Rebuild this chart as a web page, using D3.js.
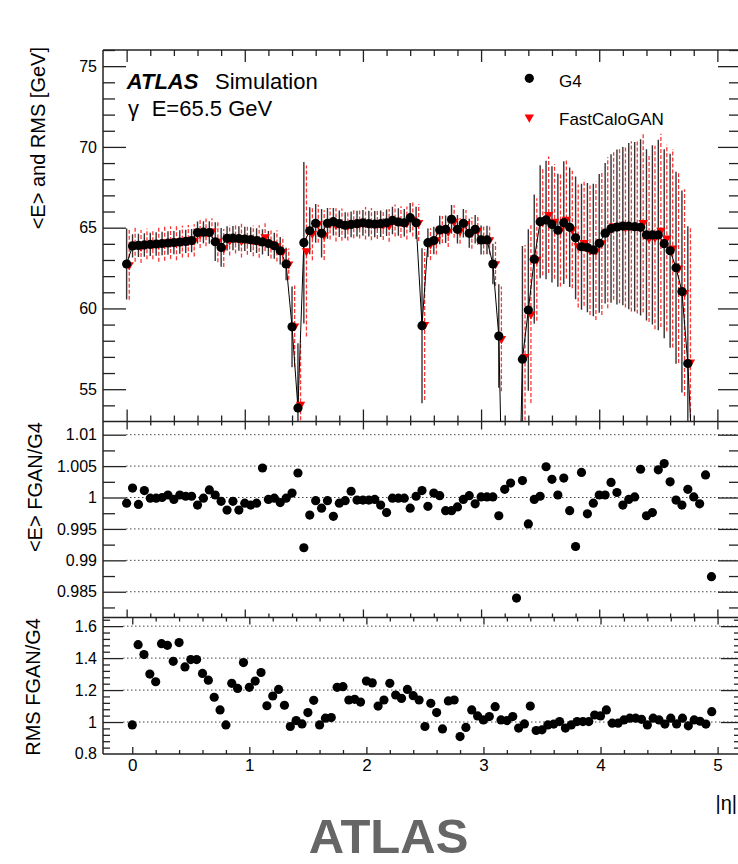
<!DOCTYPE html>
<meta charset="utf-8">
<style>
body { margin: 0; background: #fff; }
.chart text { font-family: "Liberation Sans", Arial, sans-serif; fill: #000; }
.grid line { stroke: #444; stroke-width: 1; stroke-dasharray: 1.5,2.5; }
.ax path { display: none; }
.ax line { stroke: #222; stroke-width: 1.3; }
</style>
<svg class="chart" width="738" height="864"></svg>
<script src="https://cdn.jsdelivr.net/npm/d3@7"></script>
<script>

// |eta| bin centres
var eta = [0, 0.05, 0.1, 0.15, 0.2, 0.25, 0.3, 0.35, 0.4, 0.45,
  0.5, 0.55, 0.6, 0.65, 0.7, 0.75, 0.8, 0.85, 0.9, 0.95,
  1, 1.05, 1.1, 1.15, 1.2, 1.25, 1.3, 1.35, 1.4, 1.45,
  1.5, 1.55, 1.6, 1.65, 1.7, 1.75, 1.8, 1.85, 1.9, 1.95,
  2, 2.05, 2.1, 2.15, 2.2, 2.25, 2.3, 2.35, 2.4, 2.45,
  2.5, 2.55, 2.6, 2.65, 2.7, 2.75, 2.8, 2.85, 2.9, 2.95,
  3, 3.05, 3.1, 3.15, 3.2, 3.25, 3.3, 3.35, 3.4, 3.45,
  3.5, 3.55, 3.6, 3.65, 3.7, 3.75, 3.8, 3.85, 3.9, 3.95,
  4, 4.05, 4.1, 4.15, 4.2, 4.25, 4.3, 4.35, 4.4, 4.45,
  4.5, 4.55, 4.6, 4.65, 4.7, 4.75, 4.8, 4.85, 4.9, 4.95];

// G4 mean energy [GeV]
var g4Mean = [62.75, 63.87, 63.90, 63.93, 63.96, 63.99, 64.02, 64.05, 64.08, 64.11,
  64.15, 64.20, 64.70, 64.72, 64.70, 64.13, 63.78, 64.34, 64.35, 64.33,
  64.30, 64.26, 64.20, 64.12, 64.02, 63.88, 63.57, 62.75, 58.86, 53.84,
  64.07, 64.81, 65.27, 64.65, 65.27, 65.37, 65.25, 65.15, 65.20, 65.25,
  65.30, 65.25, 65.22, 65.25, 65.30, 65.45, 65.35, 65.30, 65.62, 65.30,
  58.93, 64.07, 64.20, 64.86, 64.90, 65.52, 64.90, 65.27, 64.65, 64.90,
  64.24, 64.24, 62.75, 58.29, 41.0, 38.0, 40.0, 56.86, 59.90, 63.05,
  65.37, 65.48, 65.20, 64.84, 65.31, 65.02, 64.37, 63.82, 63.77, 63.62,
  64.03, 64.66, 64.95, 65.04, 65.10, 65.10, 65.06, 65.02, 64.55, 64.55,
  64.55, 64.01, 63.57, 62.52, 61.05, 56.59, 49.0, 45.0, 42.0, 40.0];

// G4 RMS [GeV]
var g4Rms = [2.2, 0.72, 0.72, 0.73, 0.72, 0.73, 0.72, 0.73, 0.72, 0.73,
  0.72, 0.72, 0.68, 0.68, 0.70, 1.2, 1.2, 0.75, 0.75, 0.76,
  0.75, 0.76, 0.77, 0.78, 0.78, 0.8, 0.85, 1.0, 2.5, 4.0,
  5.0, 1.45, 1.2, 1.5, 0.95, 0.85, 0.82, 0.8, 0.8, 0.8,
  0.8, 0.8, 0.82, 0.82, 0.82, 0.85, 0.85, 0.85, 0.9, 1.0,
  4.8, 0.88, 0.85, 0.88, 0.85, 0.88, 0.88, 0.88, 0.9, 0.88,
  0.9, 0.88, 1.25, 3.2, 2.0, 2.0, 2.0, 7.0, 5.0, 4.0,
  3.5, 3.67, 3.6, 3.5, 3.8, 3.7, 3.8, 3.9, 4.0, 4.1,
  4.3, 4.35, 4.6, 4.8, 4.9, 5.15, 5.25, 5.45, 5.3, 5.55,
  5.9, 5.85, 6.0, 5.95, 6.25, 8.5, 2.0, 2.0, 2.0, 2.0];

// <E> FGAN/G4
var meanRatio = [0.9991, 1.0015, 0.9989, 1.0011, 0.9999, 0.9999, 1.0000, 1.0004, 0.9997, 1.0004,
  1.0002, 1.0002, 0.9988, 0.9999, 1.0012, 1.0004, 0.9994, 0.9980, 0.9994, 0.9980,
  0.9991, 0.9988, 0.9991, 1.0047, 0.9997, 0.9999, 0.9992, 0.9999, 1.0007, 1.0039,
  0.9920, 0.9972, 0.9995, 0.9983, 0.9995, 0.9970, 0.9991, 0.9995, 1.0010, 0.9996,
  0.9996, 0.9996, 0.9997, 0.9988, 0.9976, 0.9999, 0.9999, 0.9999, 0.9983, 1.0002,
  1.0011, 0.9986, 1.0007, 1.0003, 0.9979, 0.9979, 0.9985, 0.9997, 1.0003, 0.9990,
  1.0001, 1.0001, 1.0001, 0.9971, 1.0013, 1.0023, 0.9840, 1.0027, 0.9958, 0.9997,
  1.0002, 1.0049, 1.0029, 1.0004, 1.0031, 0.9979, 0.9922, 1.0040, 0.9974, 0.9991,
  1.0004, 1.0004, 1.0024, 1.0008, 0.9988, 0.9997, 1.0001, 1.0045, 0.9971, 0.9976,
  1.0044, 1.0054, 1.0025, 0.9996, 0.9988, 1.0013, 1.0001, 0.9990, 1.0036, 0.9874];

// RMS FGAN/G4
var rmsRatio = [0.982, 1.484, 1.422, 1.300, 1.252, 1.490, 1.480, 1.380, 1.497, 1.345,
  1.391, 1.391, 1.304, 1.262, 1.155, 1.076, 0.982, 1.242, 1.210, 1.372,
  1.217, 1.256, 1.310, 1.102, 1.163, 1.204, 1.105, 0.972, 1.009, 0.988,
  1.059, 1.136, 0.982, 1.024, 1.028, 1.217, 1.221, 1.138, 1.142, 1.125,
  1.256, 1.245, 1.100, 1.138, 1.242, 1.169, 1.148, 1.204, 1.165, 1.138,
  0.972, 1.117, 1.059, 0.957, 1.132, 1.138, 0.909, 0.966, 1.076, 1.038,
  1.013, 1.034, 1.096, 1.013, 1.009, 1.034, 0.962, 0.988, 1.100, 0.947,
  0.951, 0.982, 0.987, 1.003, 0.962, 0.982, 1.003, 1.003, 1.003, 1.044,
  1.038, 1.076, 0.993, 0.993, 1.013, 1.024, 1.024, 1.017, 0.982, 1.024,
  1.013, 0.987, 1.024, 0.988, 1.024, 0.976, 1.013, 1.005, 0.987, 1.065];

// tick values
var xMajor = [0, 1, 2, 3, 4, 5];
var xMinor = [0.2, 0.4, 0.6, 0.8, 1.2, 1.4, 1.6, 1.8, 2.2, 2.4, 2.6, 2.8,
  3.2, 3.4, 3.6, 3.8, 4.2, 4.4, 4.6, 4.8];
var y1Major = [55, 60, 65, 70, 75];
var y1Minor = [54, 56, 57, 58, 59, 61, 62, 63, 64, 66, 67, 68, 69, 71, 72, 73, 74, 76];
var y2Major = [0.985, 0.99, 0.995, 1, 1.005, 1.01];
var y2Labels = ["0.985", "0.99", "0.995", "1", "1.005", "1.01"];
var y2Minor = [0.9825, 0.9875, 0.9925, 0.9975, 1.0025, 1.0075, 1.0125];
var y3Major = [0.8, 1, 1.2, 1.4, 1.6];
var y3Labels = ["0.8", "1", "1.2", "1.4", "1.6"];
var y3Minor = [0.84, 0.88, 0.92, 0.96, 1.04, 1.08, 1.12, 1.16, 1.24, 1.28, 1.32, 1.36,
  1.44, 1.48, 1.52, 1.56, 1.64];

var data = eta.map(function(e, i) {
  return {
    eta: e,
    g4: g4Mean[i], g4rms: g4Rms[i],
    gan: g4Mean[i] * meanRatio[i], ganrms: g4Rms[i] * rmsRatio[i],
    rMean: meanRatio[i], rRms: rmsRatio[i]
  };
});

var svg = d3.select(".chart");
var left = 103, right = 741;

var xTop = d3.scaleLinear().domain([-0.2, 5.2]).range([left, right]);
var xBot = d3.scaleLinear().domain([-0.25, 5.2]).range([left, right]);

var p1 = { top: 50, bottom: 421.5 },
    p2 = { top: 421.5, bottom: 617.5 },
    p3 = { top: 617.5, bottom: 754 };

var y1 = d3.scaleLinear().domain([53, 76]).range([p1.bottom, p1.top]);
var y2 = d3.scaleLinear().domain([0.9809, 1.0121]).range([p2.bottom, p2.top]);
var y3 = d3.scaleLinear().domain([0.8, 1.654]).range([p3.bottom, p3.top]);

// clip paths
var defs = svg.append("defs");
[["c1", p1], ["c2", p2], ["c3", p3]].forEach(function(c) {
  defs.append("clipPath").attr("id", c[0]).append("rect")
      .attr("x", left).attr("y", c[1].top)
      .attr("width", right - left).attr("height", c[1].bottom - c[1].top);
});

// dotted grid lines in ratio panels
function grid(y, vals, x0) {
  svg.append("g").attr("class", "grid")
    .selectAll("line").data(vals).enter().append("line")
      .attr("x1", x0).attr("x2", right)
      .attr("y1", function(d) { return y(d); })
      .attr("y2", function(d) { return y(d); });
}
grid(y2, [0.985, 0.99, 0.995, 1, 1.005, 1.01], left + 23);
grid(y3, [1, 1.2, 1.4, 1.6], left + 20);

// axes with inward ticks
function yAxes(y, major, minor, labels, lenMaj, lenMin) {
  var gl = svg.append("g").attr("class", "ax").attr("transform", "translate(" + left + ",0)")
    .call(d3.axisLeft(y).tickValues(major).tickSize(-lenMaj).tickPadding(6)
      .tickFormat(function(d, i) { return labels ? labels[i] : ""; }));
  gl.attr("font-size", 16).attr("font-family", "Liberation Sans, Arial, sans-serif");
  svg.append("g").attr("class", "ax").attr("transform", "translate(" + left + ",0)")
    .call(d3.axisLeft(y).tickValues(minor.filter(function(v) { return v <= y.domain()[1]; }))
      .tickSize(-lenMin).tickFormat(""));
  svg.append("g").attr("class", "ax").attr("transform", "translate(" + right + ",0)")
    .call(d3.axisRight(y).tickValues(major).tickSize(-lenMaj).tickFormat(""));
  svg.append("g").attr("class", "ax").attr("transform", "translate(" + right + ",0)")
    .call(d3.axisRight(y).tickValues(minor.filter(function(v) { return v <= y.domain()[1]; }))
      .tickSize(-lenMin).tickFormat(""));
}
function xAxes(x, p, lenMaj, lenMin, withLabels) {
  var gb = svg.append("g").attr("class", "ax").attr("transform", "translate(0," + p.bottom + ")")
    .call(d3.axisBottom(x).tickValues(xMajor).tickSize(-lenMaj).tickPadding(5)
      .tickFormat(withLabels ? d3.format("d") : ""));
  gb.attr("font-size", 17).attr("font-family", "Liberation Sans, Arial, sans-serif");
  svg.append("g").attr("class", "ax").attr("transform", "translate(0," + p.bottom + ")")
    .call(d3.axisBottom(x).tickValues(xMinor).tickSize(-lenMin).tickFormat(""));
  svg.append("g").attr("class", "ax").attr("transform", "translate(0," + p.top + ")")
    .call(d3.axisTop(x).tickValues(xMajor).tickSize(-lenMaj).tickFormat(""));
  svg.append("g").attr("class", "ax").attr("transform", "translate(0," + p.top + ")")
    .call(d3.axisTop(x).tickValues(xMinor).tickSize(-lenMin).tickFormat(""));
}

yAxes(y1, y1Major, y1Minor, y1Major.map(String), 23, 12);
yAxes(y2, y2Major, y2Minor, y2Labels, 23, 12);
yAxes(y3, y3Major.slice(1), y3Minor, y3Labels.slice(1), 20, 7);
// 0.8 label sits on the bottom border
svg.append("text").attr("x", left - 6).attr("y", y3(0.8)).attr("dy", "0.32em")
    .attr("text-anchor", "end").attr("font-size", 16).text(y3Labels[0]);

xAxes(xTop, p1, 12, 6, false);
xAxes(xTop, p2, 8, 4, false);
xAxes(xBot, p3, 7, 4, true);

// frame
var frame = svg.append("g").attr("stroke", "#222").attr("stroke-width", 1.5);
frame.append("line").attr("x1", left).attr("x2", left).attr("y1", p1.top).attr("y2", p3.bottom);
frame.append("line").attr("x1", right).attr("x2", right).attr("y1", p1.top).attr("y2", p3.bottom);
[p1.top, p2.top, p3.top, p3.bottom].forEach(function(yy) {
  frame.append("line").attr("x1", left).attr("x2", right).attr("y1", yy).attr("y2", yy);
});

// ---- top panel ----
var g1 = svg.append("g").attr("clip-path", "url(#c1)");
var dx = 2.6;

g1.selectAll(".g4bar").data(data).enter().append("line")
    .attr("x1", function(d) { return xTop(d.eta); })
    .attr("x2", function(d) { return xTop(d.eta); })
    .attr("y1", function(d) { return y1(d.g4 - d.g4rms); })
    .attr("y2", function(d) { return y1(d.g4 + d.g4rms); })
    .attr("stroke", "#333").attr("stroke-width", 1.4);

g1.selectAll(".ganbar").data(data).enter().append("line")
    .attr("x1", function(d) { return xTop(d.eta) + dx; })
    .attr("x2", function(d) { return xTop(d.eta) + dx; })
    .attr("y1", function(d) { return y1(d.gan - d.ganrms); })
    .attr("y2", function(d) { return y1(d.gan + d.ganrms); })
    .attr("stroke", "#f33").attr("stroke-width", 1.3)
    .attr("stroke-dasharray", "4,2");

g1.append("path").datum(data)
    .attr("fill", "none").attr("stroke", "#000").attr("stroke-width", 1)
    .attr("d", d3.line()
      .x(function(d) { return xTop(d.eta); })
      .y(function(d) { return y1(d.g4); }));

var tri = d3.symbol().type(d3.symbolTriangle).size(38);
g1.selectAll(".gan").data(data).enter().append("path")
    .attr("d", tri)
    .attr("fill", "#f00")
    .attr("transform", function(d) {
      return "translate(" + (xTop(d.eta) + dx) + "," + y1(d.gan) + ") rotate(180)";
    });

g1.selectAll(".g4").data(data).enter().append("circle")
    .attr("cx", function(d) { return xTop(d.eta); })
    .attr("cy", function(d) { return y1(d.g4); })
    .attr("r", 4.6).attr("fill", "#000");

// ---- ratio panels ----
svg.append("g").attr("clip-path", "url(#c2)")
  .selectAll("circle").data(data).enter().append("circle")
    .attr("cx", function(d) { return xTop(d.eta); })
    .attr("cy", function(d) { return y2(d.rMean); })
    .attr("r", 4.6).attr("fill", "#000");

svg.append("g").attr("clip-path", "url(#c3)")
  .selectAll("circle").data(data).enter().append("circle")
    .attr("cx", function(d) { return xBot(d.eta); })
    .attr("cy", function(d) { return y3(d.rRms); })
    .attr("r", 4.6).attr("fill", "#000");

// ---- labels ----
svg.append("text").attr("x", 126.7).attr("y", 89.3)
    .attr("font-size", 22).attr("font-weight", "bold").attr("font-style", "italic")
    .text("ATLAS");
svg.append("text").attr("x", 215).attr("y", 89.3).attr("font-size", 22).text("Simulation");
svg.append("text").attr("x", 128).attr("y", 116).attr("font-size", 22).text("γ");
svg.append("text").attr("x", 151.7).attr("y", 116).attr("font-size", 22).text("E=65.5 GeV");

// legend
svg.append("circle").attr("cx", 529.3).attr("cy", 78.3).attr("r", 4.6).attr("fill", "#000");
svg.append("text").attr("x", 559).attr("y", 86.5).attr("font-size", 17).text("G4");
svg.append("path").attr("d", tri).attr("fill", "#f00")
    .attr("transform", "translate(529.3,117.3) rotate(180)");
svg.append("text").attr("x", 559).attr("y", 125).attr("font-size", 17).text("FastCaloGAN");

// axis titles
function yTitle(x, yEnd, txt) {
  svg.append("text").attr("transform", "translate(" + x + "," + yEnd + ") rotate(-90)")
      .attr("text-anchor", "end").attr("font-size", 20).text(txt);
}
yTitle(44.5, 47, "<E> and RMS [GeV]");
yTitle(41.5, 422, "<E> FGAN/G4");
yTitle(39.5, 618, "RMS FGAN/G4");

svg.append("text").attr("x", 737).attr("y", 810).attr("text-anchor", "end")
    .attr("font-size", 20).text("|η|");

svg.append("text").attr("x", 388.5).attr("y", 853).attr("text-anchor", "middle")
    .attr("font-size", 49).attr("font-weight", "bold")
    .style("fill", "#666").text("ATLAS");

</script>
